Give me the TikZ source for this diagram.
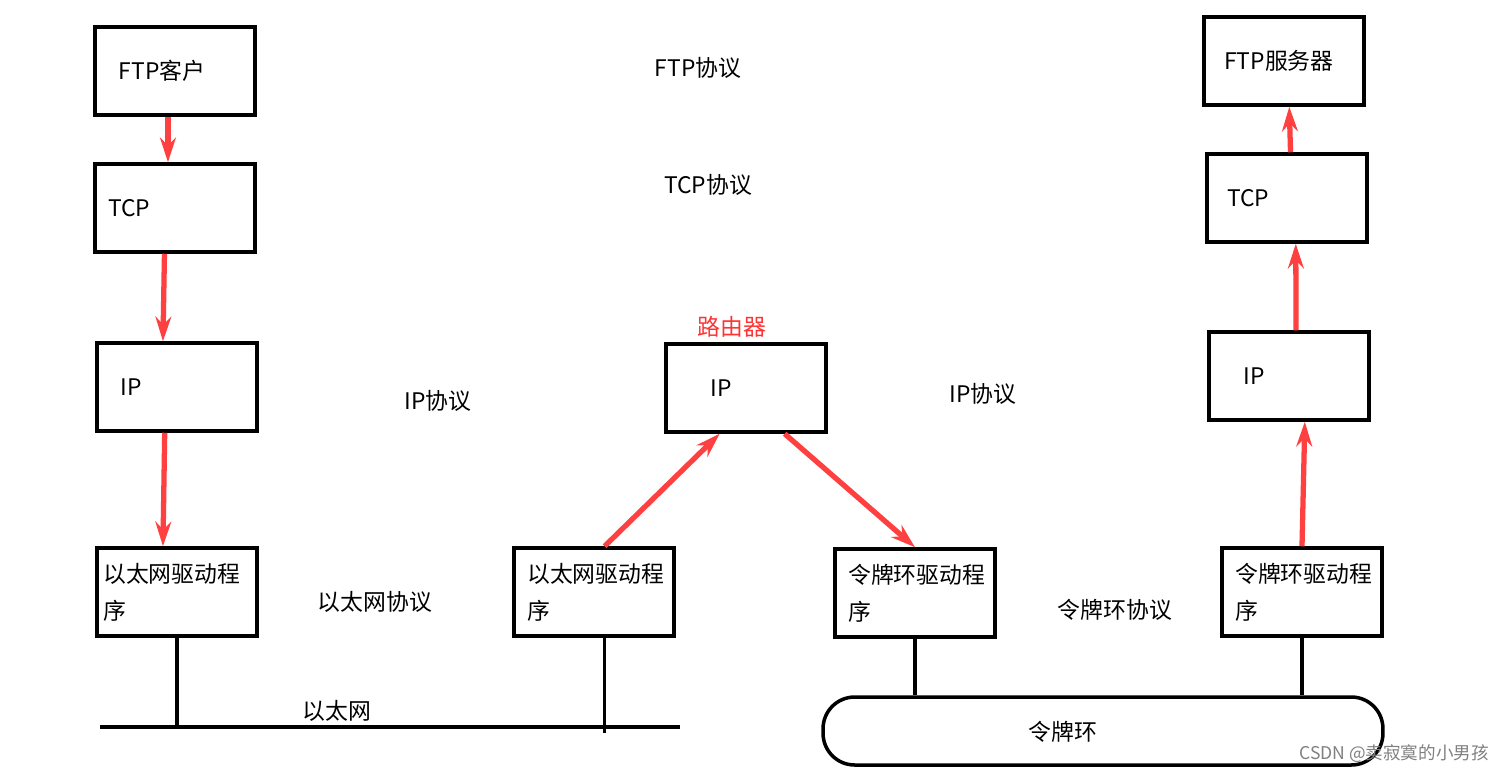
\documentclass[tikz,border=0pt]{standalone}
\usepackage{fontspec}
\setmainfont{Noto Sans CJK SC}
\usetikzlibrary{arrows.meta,positioning}
\tikzset{layer/.style={draw,line width=2pt,minimum width=3.2cm,minimum height=1.76cm,text width=2.95cm,align=left,inner sep=3pt,font=\fontsize{13}{21}\selectfont},
	flow/.style={draw=red!75!white,line width=3pt,-{Stealth[length=14pt,width=9pt]}},
	proto/.style={font=\fontsize{13}{16}\selectfont},
	wire/.style={line width=2pt}}
\begin{document}
\begin{tikzpicture}[x=0.02cm,y=-0.02cm]
	\useasboundingbox (0,0) rectangle (1508,775);
	% client stack
	\node (ftpc)[layer] at (175,71) {\hspace*{10pt}FTP客户\\[8pt]};
	\node (tcpl)[layer] at (175,208) {\hspace*{4pt}TCP};
	\node (ipl)[layer] at (177,387) {\hspace*{10pt}IP};
	\node (ethl)[layer] at (177,592) {以太网驱动程\\序};

	% router
	\node (rip)[layer] at (746,388) {\hspace*{22pt}IP\\[8pt]};
	\node (ethr)[layer] at (594,592) {\hspace*{4pt}以太网驱动程\\\hspace*{4pt}序};
	\node (tokr)[layer] at (915,593) {\hspace*{4pt}令牌环驱动程\\\hspace*{4pt}序};
	\node [text=red!80!white,proto] at (732,327) {路由器};

	% server stack
	\node (ftps)[layer] at (1284,61) {\hspace*{8pt}FTP服务器\\[8pt]};
	\node (tcps)[layer] at (1287,198) {\hspace*{8pt}TCP};
	\node (ips)[layer] at (1289,376) {\hspace*{16pt}IP\\[2pt]};
	\node (toks)[layer] at (1302,592) {\hspace*{4pt}令牌环驱动程\\\hspace*{4pt}序\\[-6pt]};

	% protocols
	\node [proto] at (698,68) {FTP协议};
	\node [proto] at (708,185) {TCP协议};
	\node [proto] at (438,401) {IP协议};
	\node [proto] at (983,394) {IP协议};
	\node [proto] at (375,602) {以太网协议};
	\node [proto] at (1115,610) {令牌环协议};

	% networks
	\coordinate (ethA) at (100,727);
	\coordinate (ethB) at (680,727);
	\draw[wire] (ethA) -- (ethB);
	\node [proto] at (337,711) {以太网};
	\draw[wire] (ethl.south) -- (ethl.south |- ethA);
	\draw[wire] ([xshift=6pt]ethr.south) -- ++(0,95);
	\node (ring)[draw,wire,rounded corners=18pt,minimum width=11.2cm,minimum height=1.36cm] at (1103,731) {};
	\node [proto] at (1063,732) {令牌环};
	\draw[wire] (tokr.south) -- (tokr.south |- ring.north);
	\draw[wire] (toks.south) -- (toks.south |- ring.north);
	\node [text=gray,anchor=east] at (1495,754) {CSDN @卖寂寞的小男孩};

	% data flow
	\draw[flow] ([xshift=-4pt]ftpc.south) -- ([xshift=-4pt]tcpl.north);
	\draw[flow] ([xshift=-6pt]tcpl.south) -- ([xshift=-8pt]ipl.north);
	\draw[flow] ([xshift=-7pt]ipl.south) -- ([xshift=-8pt]ethl.north);
	\draw[flow] ([xshift=6pt]ethr.north) -- ([xshift=-15pt]rip.south);
	\draw[flow] ([xshift=22pt]rip.south) -- (tokr.north);
	\draw[flow] (toks.north) -- ([xshift=9pt]ips.south);
	\draw[flow] ([xshift=4pt]ips.north) -- ([xshift=5pt]tcps.south);
	\draw[flow] ([xshift=2pt]tcps.north) -- ([xshift=3pt]ftps.south);
\end{tikzpicture}
\end{document}
